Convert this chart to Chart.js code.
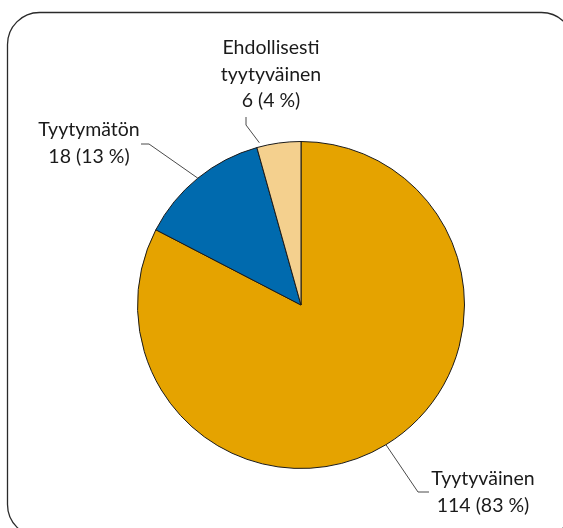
<!DOCTYPE html>
<html>
<head>
<meta charset="utf-8">
<script src="https://cdn.jsdelivr.net/npm/chart.js@4"></script>
<style>
  html, body { margin: 0; padding: 0; background: #fff; }
  #wrap { width: 563px; height: 528px; }
</style>
</head>
<body>
<div id="wrap"><canvas id="myChart" width="563" height="528"></canvas></div>
<script>
// slice data, clockwise from 12 o'clock
const categories = ["Tyytyväinen", "Tyytymätön", "Ehdollisesti tyytyväinen"];
const counts = [114, 18, 6];
const percents = [83, 13, 4];
const sliceColors = ["#E5A300", "#006AAE", "#F4D08E"];

// label text lines per slice
const labelLines = [
  ["Tyytyväinen", "114 (83 %)"],
  ["Tyytymätön", "18 (13 %)"],
  ["Ehdollisesti", "tyytyväinen", "6 (4 %)"],
];

// label placement relative to pie centre (dx, dy of first line), leader points
const labelPlace = [
  { frac: 0.5, text: [182, 174], leader: [[117, 187], [128, 187]] },
  { frac: 0.5, text: [-212, -175], leader: [[-152, -161], [-160, -161]] },
  { frac: 0.08, text: [-30, -257], leader: [[-55, -180], [-55, -188]] },
];

const LINE_H = 26.5;

const labelPlugin = {
  id: "pieLabels",
  afterDraw(chart) {
    const ctx = chart.ctx;
    const arcs = chart.getDatasetMeta(0).data;
    ctx.save();
    arcs.forEach((arc, i) => {
      const p = labelPlace[i];
      const cx = arc.x, cy = arc.y;
      const a = arc.startAngle + (arc.endAngle - arc.startAngle) * p.frac;
      const r = arc.outerRadius + (i === 2 ? 4 : 0);
      ctx.strokeStyle = "#4a4a4a";
      ctx.lineWidth = 1;
      ctx.beginPath();
      ctx.moveTo(cx + Math.cos(a) * r, cy + Math.sin(a) * r);
      p.leader.forEach((pt) => ctx.lineTo(cx + pt[0], cy + pt[1]));
      ctx.stroke();

      ctx.fillStyle = "#1a1a1a";
      ctx.font = "19.5px Lato, 'Open Sans', sans-serif";
      ctx.textAlign = "center";
      ctx.textBaseline = "middle";
      labelLines[i].forEach((line, k) => {
        ctx.fillText(line, cx + p.text[0], cy + p.text[1] + k * LINE_H);
      });
    });
    ctx.restore();
  },
};

const framePlugin = {
  id: "frame",
  afterDraw(chart) {
    const ctx = chart.ctx;
    ctx.save();
    ctx.strokeStyle = "#2a2a2a";
    ctx.lineWidth = 1.3;
    ctx.beginPath();
    ctx.roundRect(7.5, 12.5, 566, 524, 32);
    ctx.stroke();
    ctx.restore();
  },
};

const ctx = document.getElementById("myChart").getContext("2d");
const myChart = new Chart(ctx, {
  type: "pie",
  data: {
    labels: categories,
    datasets: [
      {
        data: counts,
        backgroundColor: sliceColors,
        borderColor: "#1a1a1a",
        borderWidth: 1,
      },
    ],
  },
  options: {
    responsive: false,
    animation: false,
    layout: {
      padding: { left: 137, right: 98, top: 140, bottom: 58 },
    },
    plugins: {
      legend: { display: false },
      tooltip: { enabled: false },
    },
  },
  plugins: [labelPlugin, framePlugin],
});
</script>
</body>
</html>
